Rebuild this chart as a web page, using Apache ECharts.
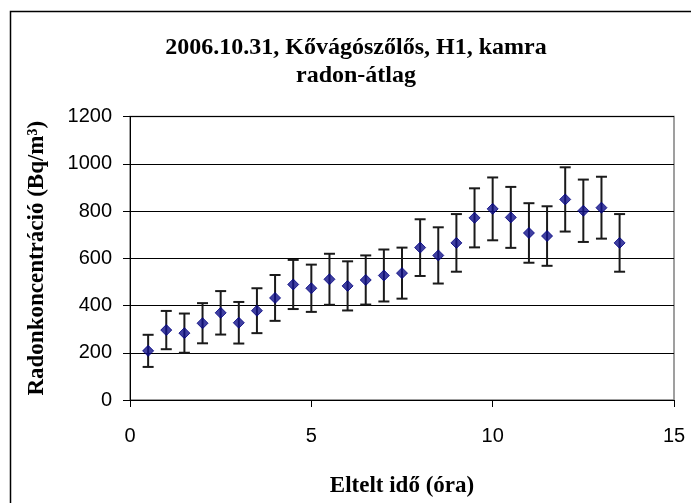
<!DOCTYPE html>
<html>
<head>
<meta charset="utf-8">
<title>Radon-átlag</title>
<script src="https://cdn.jsdelivr.net/npm/echarts@6/dist/echarts.min.js"></script>
<style>
  html, body { margin: 0; padding: 0; background: #fff; }
  #chart { width: 691px; height: 503px; }
</style>
</head>
<body>
<div id="chart"></div>
<script>
// Elapsed time (hours)
const hours = [0.5, 1, 1.5, 2, 2.5, 3, 3.5, 4, 4.5, 5, 5.5, 6, 6.5, 7, 7.5,
               8, 8.5, 9, 9.5, 10, 10.5, 11, 11.5, 12, 12.5, 13, 13.5];
// Mean radon concentration (Bq/m3)
const radon = [208, 296, 283, 325, 369, 327, 378, 432, 489, 473, 511, 483, 508, 527, 537,
               645, 612, 665, 771, 809, 773, 707, 694, 849, 801, 814, 665];
// Uncertainty (± Bq/m3)
const radonErr = [68, 81, 83, 85, 92, 88, 95, 97, 104, 100, 108, 104, 104, 110, 108,
                  120, 119, 122, 125, 133, 129, 126, 126, 136, 132, 131, 122];
const yTicks = [0, 200, 400, 600, 800, 1000, 1200];
const xTicks = [0, 5, 10, 15];

const serif = '"Liberation Serif", "Times New Roman", serif';
const sans = '"Liberation Sans", Arial, sans-serif';

const points = hours.map((h, i) => [h, radon[i]]);
const bars = hours.map((h, i) => [h, radon[i] - radonErr[i], radon[i] + radonErr[i]]);

const chart = echarts.init(document.getElementById('chart'), null, { renderer: 'canvas' });

chart.setOption({
  animation: false,
  backgroundColor: '#fff',
  title: {
    text: '2006.10.31, Kővágószőlős, H1, kamra\nradon-átlag',
    left: 351,
    textAlign: 'center',
    top: 29,
    textStyle: {
      fontFamily: serif,
      fontWeight: 'bold',
      fontSize: 24,
      lineHeight: 28,
      color: '#000'
    }
  },
  graphic: [{
    type: 'rect',
    shape: { x: 10.5, y: 11.5, width: 700, height: 520 },
    style: { fill: 'none', stroke: '#000', lineWidth: 1.5 },
    silent: true
  }],
  grid: {
    left: 130,
    right: 17,
    top: 116.5,
    bottom: 98.5,
    show: true,
    borderColor: '#808080',
    borderWidth: 1.5,
    backgroundColor: 'transparent'
  },
  xAxis: {
    type: 'value',
    min: xTicks[0],
    max: xTicks[xTicks.length - 1],
    interval: 5,
    name: 'Eltelt idő (óra)',
    nameLocation: 'middle',
    nameGap: 75,
    nameTextStyle: { fontFamily: serif, fontWeight: 'bold', fontSize: 23, color: '#000' },
    axisLine: { show: true, onZero: false, lineStyle: { color: '#000', width: 1 } },
    axisTick: { show: true, inside: false, length: 7, lineStyle: { color: '#000' } },
    axisLabel: { fontFamily: sans, fontSize: 20, color: '#000', margin: 26,
                 formatter: v => String(v) },
    splitLine: { show: false }
  },
  yAxis: {
    type: 'value',
    min: yTicks[0],
    max: yTicks[yTicks.length - 1],
    interval: 200,
    name: 'Radonkoncentráció (Bq/m³)',
    nameLocation: 'middle',
    nameGap: 81,
    nameTextStyle: { fontFamily: serif, fontWeight: 'bold', fontSize: 23, color: '#000' },
    axisLine: { show: true, lineStyle: { color: '#000', width: 1 } },
    axisTick: { show: true, inside: false, length: 7, lineStyle: { color: '#000' } },
    axisLabel: { fontFamily: sans, fontSize: 20, color: '#000', margin: 18,
                 formatter: v => String(v) },
    splitLine: { show: true, lineStyle: { color: '#000', width: 1 } }
  },
  series: [
    {
      name: 'hiba',
      type: 'custom',
      data: bars,
      z: 2,
      renderItem: function (params, api) {
        const x = api.value(0);
        const lo = api.coord([x, api.value(1)]);
        const hi = api.coord([x, api.value(2)]);
        const cap = 5.5;
        const style = { stroke: '#1a1a1a', lineWidth: 2 };
        return {
          type: 'group',
          children: [
            { type: 'line', shape: { x1: lo[0], y1: lo[1], x2: hi[0], y2: hi[1] }, style: style },
            { type: 'line', shape: { x1: hi[0] - cap, y1: hi[1], x2: hi[0] + cap, y2: hi[1] }, style: style },
            { type: 'line', shape: { x1: lo[0] - cap, y1: lo[1], x2: lo[0] + cap, y2: lo[1] }, style: style }
          ]
        };
      }
    },
    {
      name: 'radon-átlag',
      type: 'scatter',
      data: points,
      z: 3,
      symbol: 'diamond',
      symbolSize: [11, 11],
      itemStyle: { color: '#10108a', borderColor: '#000080', borderWidth: 1 }
    }
  ]
});
</script>
</body>
</html>
